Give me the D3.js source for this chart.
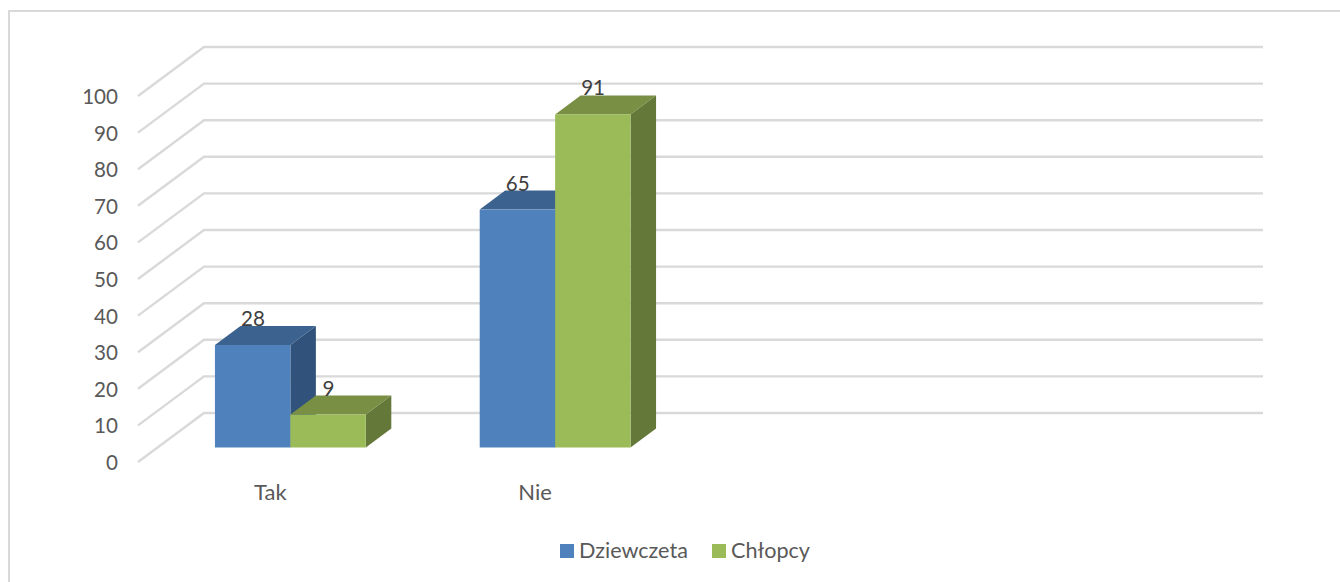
<!DOCTYPE html>
<html>
<head>
<meta charset="utf-8">
<script src="https://cdn.jsdelivr.net/npm/d3@7"></script>
<style>
  body { margin: 0; background: #fff; }
  text { font-family: Lato, "Open Sans", sans-serif; fill: #595959; }
</style>
</head>
<body>
<svg class="chart" width="1340" height="582"></svg>
<script>
var categories = ["Tak", "Nie", " ", "  "];
var seriesNames = ["Dziewczeta", "Chłopcy"];
var dziewczeta = [28, 65];
var chlopcy = [9, 91];
var yTicks = [0, 10, 20, 30, 40, 50, 60, 70, 80, 90, 100];

var colors = {
  Dziewczeta: { front: "#4f81bd", top: "#3c6390", side: "#31527a" },
  Chłopcy: { front: "#9bbb59", top: "#788f44", side: "#64783a" }
};

var svg = d3.select(".chart");

// wall depth and bar depth (oblique projection)
var wall = { dx: 66, dy: -49 };
var barDepth = { dx: 25.5, dy: -19 };
var barBase = 447.5;

var y = d3.scaleLinear().domain([0, 100]).range([462, 96]);
var x = d3.scaleBand().domain(categories).range([138, 1197]);
var xBars = d3.scaleBand().domain(categories).range([158, 1217]);
var xSub = d3
  .scaleBand()
  .domain(seriesNames)
  .range([0, x.bandwidth()])
  .paddingInner(0)
  .paddingOuter(0.755);

// outer frame
svg
  .append("path")
  .attr("d", "M1340,11H9V582")
  .attr("fill", "none")
  .attr("stroke", "#d9d9d9")
  .attr("stroke-width", 2);

// gridlines on the wall
svg
  .append("g")
  .selectAll("path")
  .data(yTicks)
  .enter()
  .append("path")
  .attr("fill", "none")
  .attr("stroke", "#d9d9d9")
  .attr("stroke-width", 2.4)
  .attr("d", function (d) {
    return (
      "M" + x.range()[0] + "," + y(d) +
      "L" + (x.range()[0] + wall.dx) + "," + (y(d) + wall.dy) +
      "H" + (x.range()[1] + wall.dx)
    );
  });

var yAxis = svg
  .append("g")
  .attr("transform", "translate(122,1)")
  .call(d3.axisLeft(y).tickValues(yTicks).tickSize(0).tickPadding(4));
yAxis.select(".domain").remove();
yAxis.selectAll("text").attr("font-size", 20.6).style("font-family", "Lato");

var xAxis = svg
  .append("g")
  .attr("transform", "translate(0,484)")
  .call(d3.axisBottom(x).tickSize(0).tickPadding(0));
xAxis.select(".domain").remove();
xAxis.selectAll("text").attr("font-size", 22).style("font-family", "Lato");

// bars: one record per value, drawn back-to-front
var bars = [];
categories.slice(0, 2).forEach(function (c, i) {
  bars.push({ cat: c, name: seriesNames[0], value: dziewczeta[i] });
  bars.push({ cat: c, name: seriesNames[1], value: chlopcy[i] });
});

var bar = svg
  .append("g")
  .selectAll("g")
  .data(bars)
  .enter()
  .append("g");

function geom(d) {
  var x0 = xBars(d.cat) + xSub(d.name);
  return { x0: x0, x1: x0 + xSub.bandwidth(), top: y(d.value) - y(0) + barBase, base: barBase };
}

bar
  .append("path") // side
  .attr("fill", function (d) { return colors[d.name].side; })
  .attr("d", function (d) {
    var g = geom(d);
    return (
      "M" + g.x1 + "," + g.base +
      "V" + g.top +
      "l" + barDepth.dx + "," + barDepth.dy +
      "V" + (g.base + barDepth.dy) +
      "Z"
    );
  });

bar
  .append("path") // top
  .attr("fill", function (d) { return colors[d.name].top; })
  .attr("d", function (d) {
    var g = geom(d);
    return (
      "M" + g.x0 + "," + g.top +
      "l" + barDepth.dx + "," + barDepth.dy +
      "H" + (g.x1 + barDepth.dx) +
      "L" + g.x1 + "," + g.top +
      "Z"
    );
  });

bar
  .append("rect") // front
  .attr("x", function (d) { return geom(d).x0; })
  .attr("y", function (d) { return geom(d).top; })
  .attr("width", xSub.bandwidth())
  .attr("height", function (d) { return geom(d).base - geom(d).top; })
  .attr("fill", function (d) { return colors[d.name].front; });

// value labels sit at the back edge of each bar top
bar
  .append("text")
  .attr("x", function (d) { return geom(d).x0 + 38; })
  .attr("y", function (d) { return geom(d).top - 19; })
  .attr("text-anchor", "middle")
  .attr("font-size", 20.6)
  .style("fill", "#404040")
  .text(function (d) { return d.value; });

// legend
var legendX = d3.scaleOrdinal().domain(seriesNames).range([560, 712]);
var legend = svg
  .append("g")
  .selectAll("g")
  .data(seriesNames)
  .enter()
  .append("g")
  .attr("transform", function (d) { return "translate(" + legendX(d) + ",544)"; });

legend
  .append("rect")
  .attr("width", 14)
  .attr("height", 14)
  .attr("fill", function (d) { return colors[d].front; });

legend
  .append("text")
  .attr("x", 19)
  .attr("y", 14)
  .attr("font-size", 21.6)
  .text(function (d) { return d; });
</script>
</body>
</html>
